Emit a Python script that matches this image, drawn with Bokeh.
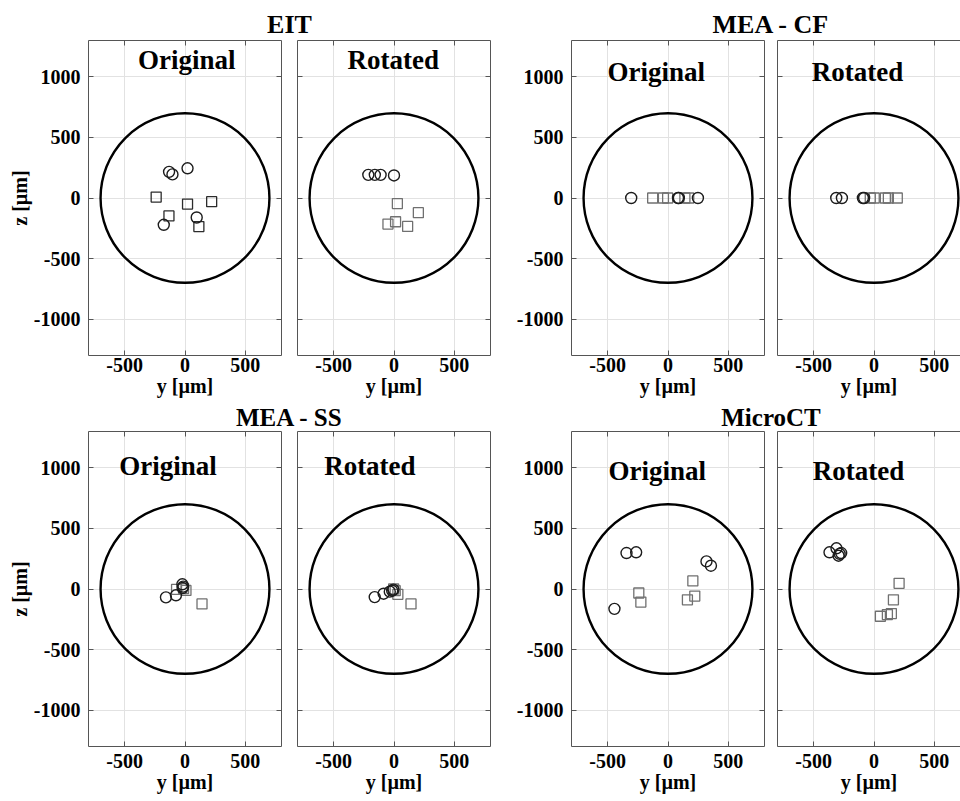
from bokeh.plotting import figure
from bokeh.layouts import column, row
from bokeh.models import Range1d, FixedTicker, LinearAxis, CustomJSTickFormatter
from bokeh.embed import file_html
from bokeh.resources import INLINE
from bokeh.core.properties import value

# ---------------- data ----------------
group_titles = ["EIT", "MEA - CF", "MEA - SS", "MicroCT"]
view_titles = ["Original", "Rotated"]
boundary_radius = 700
x_ticks = [-500, 0, 500]
y_ticks = [-1000, -500, 0, 500, 1000]

# EIT
eit_orig_circ_y = [-132, -104, 21, -176, 97]
eit_orig_circ_z = [216, 195, 245, -221, -161]
eit_orig_sq_y = [-239, -133, 21, 221, 115]
eit_orig_sq_z = [8, -148, -50, -30, -236]
eit_rot_circ_y = [-213, -159, -111, 0]
eit_rot_circ_z = [191, 191, 191, 186]
eit_rot_sq_y = [28, 202, -50, 13, 113]
eit_rot_sq_z = [-46, -121, -215, -196, -235]

# MEA - CF
cf_orig_circ_y = [-305, 83, 90, 248]
cf_orig_circ_z = [0, 0, 0, 0]
cf_orig_sq_y = [-127, -38, -3, 140, 172]
cf_orig_sq_z = [0, 0, 0, 0, 0]
cf_rot_circ_y = [-313, -266, -92, -82]
cf_rot_circ_z = [0, 0, 0, 0]
cf_rot_sq_y = [-31, 2, 94, 119, 193]
cf_rot_sq_z = [0, 0, 0, 0, 0]

# MEA - SS
ss_orig_circ_y = [-158, -75, -22, -15, -20]
ss_orig_circ_z = [-69, -52, 39, 20, 8]
ss_orig_sq_y = [-70, 8, -12, 141]
ss_orig_sq_z = [-3, -12, 4, -123]
ss_rot_circ_y = [-160, -86, -35, -15, -5]
ss_rot_circ_z = [-67, -39, -22, -14, -5]
ss_rot_sq_y = [-3, 10, 32, 141]
ss_rot_sq_z = [0, -14, -44, -123]

# MicroCT
ct_orig_circ_y = [-344, -264, 319, 356, -444]
ct_orig_circ_z = [297, 303, 228, 192, -164]
ct_orig_sq_y = [-242, -225, 206, 222, 161]
ct_orig_sq_z = [-33, -108, 67, -58, -89]
ct_rot_circ_y = [-369, -311, -272, -294, -285]
ct_rot_circ_z = [303, 336, 297, 275, 290]
ct_rot_sq_y = [208, 161, 53, 111, 144]
ct_rot_sq_z = [47, -89, -225, -211, -203]

# ---------------- style / layout ----------------
FONT = "Liberation Serif"
FRAME_C = "#555555"
GRID_C = "#e2e2e2"
CIRC_C = "#1c1c1c"
SQ_DARK = "#2c2c2c"
SQ_GRAY = "#707070"
X_MIN, X_MAX = -800, 800
Y_MIN, Y_MAX = -1300, 1300
FW, FH = 193, 315
TOTAL_W = 960
TEXT_DY = -8  # screen-pixel correction for text baseline

# (left border, frame width, right border, y tick labels, y axis label, right box)
cols = [
    (88, FW, 8, True, True, True),
    (8, FW, 21, False, False, True),
    (60, FW, 6, True, False, True),
    (7, 183, 0, False, False, False),
]
# label placement per group (center x, baseline y) for Original / Rotated
label_pos = [
    ((14, 1075), (-7, 1075)),
    ((-97, 970), (-137, 970)),
    ((-140, 947), (-200, 947)),
    ((-89, 911), (-129, 911)),
]

plain_fmt = CustomJSTickFormatter(code="return String(tick);")


def style_axis(ax, labels, standoff=8):
    ax.axis_line_color = FRAME_C
    ax.axis_line_width = 1
    ax.major_tick_in = 5
    ax.major_tick_out = 0
    ax.major_tick_line_color = FRAME_C
    ax.minor_tick_line_color = None
    ax.major_label_text_font = FONT
    ax.major_label_text_font_style = "bold"
    ax.major_label_text_font_size = "20px"
    ax.formatter = plain_fmt
    if labels:
        ax.major_label_text_color = "black"
        ax.major_label_standoff = standoff
    else:
        ax.major_label_text_color = None
        ax.major_label_standoff = 0
    ax.axis_label_text_font = FONT
    ax.axis_label_text_font_style = "bold"
    ax.axis_label_text_font_size = "20px"
    ax.axis_label_text_color = "black"
    ax.axis_label_standoff = 0


def make_panel(ci, top_b, bottom, xstandoff, view, circ_y, circ_z, sq_y, sq_z, sq_color, lpos):
    bl, fw, br, tick_lbl, ylab, rbox = cols[ci]
    x_end = X_MIN + (X_MAX - X_MIN) * fw / FW
    p = figure(frame_width=fw, frame_height=FH,
               x_range=Range1d(X_MIN, x_end), y_range=Range1d(Y_MIN, Y_MAX),
               output_backend="svg", toolbar_location=None, title=None,
               min_border_left=bl, min_border_right=br,
               min_border_top=top_b, min_border_bottom=bottom,
               outline_line_color=None,
               background_fill_color="white", border_fill_color="white")
    xt = FixedTicker(ticks=x_ticks)
    yt = FixedTicker(ticks=y_ticks)
    p.xaxis.ticker = xt
    p.yaxis.ticker = yt
    p.xgrid.ticker = xt
    p.ygrid.ticker = yt
    p.grid.grid_line_color = GRID_C
    p.grid.grid_line_width = 1
    for ax in p.xaxis:
        style_axis(ax, True, xstandoff)
        ax.axis_label = "y [µm]"
    for ax in p.yaxis:
        style_axis(ax, tick_lbl, 8)
        if ylab:
            ax.axis_label = "z [µm]"
    top = LinearAxis(ticker=xt)
    style_axis(top, False)
    p.add_layout(top, "above")
    if rbox:
        right = LinearAxis(ticker=yt)
        style_axis(right, False)
        p.add_layout(right, "right")

    p.ellipse(x=[0], y=[0], width=[2 * boundary_radius], height=[2 * boundary_radius],
              fill_color=None, line_color="black", line_width=2.4)
    p.scatter(sq_y, sq_z, marker="square", size=10, fill_color=None,
              line_color=sq_color, line_width=1.3)
    p.scatter(circ_y, circ_z, marker="circle", size=11, fill_color=None,
              line_color=CIRC_C, line_width=1.4)
    p.text(x=[lpos[0]], y=[lpos[1]], text=[view], y_offset=TEXT_DY,
           text_font=value(FONT), text_font_style="bold", text_font_size="27px",
           text_align="center", text_baseline="alphabetic", text_color="black")
    return p


def make_title_fig(height, titles, baseline, fsize):
    x = 0
    edges = []
    for (bl, fw, br, *_r) in cols:
        edges.append((x + bl, x + bl + FW))
        x += bl + fw + br
    centers = [(edges[0][0] + edges[1][1]) / 2, (edges[2][0] + edges[3][1]) / 2]
    t = figure(frame_width=TOTAL_W, frame_height=height, x_range=Range1d(0, TOTAL_W),
               y_range=Range1d(0, height), output_backend="svg", title=None,
               toolbar_location=None, min_border=0, outline_line_color=None,
               x_axis_location=None, y_axis_location=None,
               background_fill_color="white", border_fill_color="white")
    t.grid.visible = False
    t.text(x=centers, y=[baseline, baseline], text=titles, y_offset=TEXT_DY,
           text_font=value(FONT), text_font_style="bold", text_font_size=fsize,
           text_align="center", text_baseline="alphabetic", text_color="black")
    return t


row1 = row(
    make_panel(0, 2, 47, 2, view_titles[0], eit_orig_circ_y, eit_orig_circ_z, eit_orig_sq_y, eit_orig_sq_z, SQ_DARK, label_pos[0][0]),
    make_panel(1, 2, 47, 2, view_titles[1], eit_rot_circ_y, eit_rot_circ_z, eit_rot_sq_y, eit_rot_sq_z, SQ_GRAY, label_pos[0][1]),
    make_panel(2, 2, 47, 2, view_titles[0], cf_orig_circ_y, cf_orig_circ_z, cf_orig_sq_y, cf_orig_sq_z, SQ_GRAY, label_pos[1][0]),
    make_panel(3, 2, 47, 2, view_titles[1], cf_rot_circ_y, cf_rot_circ_z, cf_rot_sq_y, cf_rot_sq_z, SQ_GRAY, label_pos[1][1]),
)
row2 = row(
    make_panel(0, 1, 54, 7, view_titles[0], ss_orig_circ_y, ss_orig_circ_z, ss_orig_sq_y, ss_orig_sq_z, SQ_GRAY, label_pos[2][0]),
    make_panel(1, 1, 54, 7, view_titles[1], ss_rot_circ_y, ss_rot_circ_z, ss_rot_sq_y, ss_rot_sq_z, SQ_GRAY, label_pos[2][1]),
    make_panel(2, 1, 54, 7, view_titles[0], ct_orig_circ_y, ct_orig_circ_z, ct_orig_sq_y, ct_orig_sq_z, SQ_GRAY, label_pos[3][0]),
    make_panel(3, 1, 54, 7, view_titles[1], ct_rot_circ_y, ct_rot_circ_z, ct_rot_sq_y, ct_rot_sq_z, SQ_GRAY, label_pos[3][1]),
)

layout = column(
    make_title_fig(38, group_titles[0:2], 6, "26px"),
    row1,
    make_title_fig(28, group_titles[2:4], 5.5, "25px"),
    row2,
)

open("out.html", "w").write(file_html(layout, INLINE))
